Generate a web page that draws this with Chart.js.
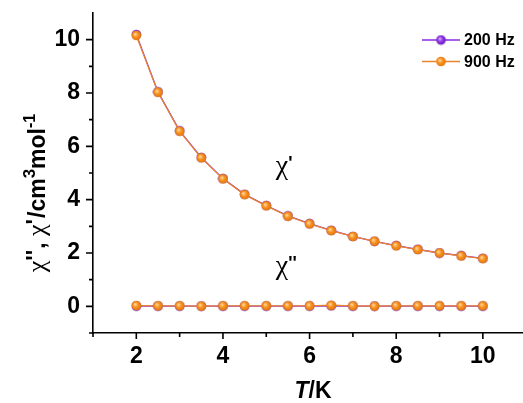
<!DOCTYPE html>
<html><head><meta charset="utf-8">
<script src="https://cdn.jsdelivr.net/npm/chart.js@4"></script>
<style>html,body{margin:0;padding:0;background:#fff;overflow:hidden}</style>
</head><body>
<canvas id="c" width="529" height="403" style="width:529px;height:403px;display:block"></canvas>
<script>
const temperatures = [2,2.5,3,3.5,4,4.5,5,5.5,6,6.5,7,7.5,8,8.5,9,9.5,10];
const chiReal200 = [10.19,8.04,6.58,5.58,4.79,4.20,3.78,3.39,3.10,2.85,2.62,2.44,2.28,2.14,2.00,1.90,1.80];
const chiReal900 = [10.16,8.03,6.57,5.57,4.78,4.19,3.77,3.38,3.09,2.84,2.62,2.44,2.27,2.13,2.00,1.89,1.79];
const chiImag200 = [0.01,0.01,0.01,0.01,0.01,0.01,0.01,0.01,0.01,0.02,0.01,0.01,0.01,0.01,0.01,0.01,0.01];
const chiImag900 = [0.03,0.02,0.02,0.01,0.02,0.02,0.02,0.02,0.02,0.04,0.02,0.01,0.02,0.02,0.02,0.02,0.02];
const xTickLabels = [2,4,6,8,10];
const yTickLabels = [0,2,4,6,8,10];
const xMinorTicks = [1,3,5,7,9];
const yMinorTicks = [-1,1,3,5,7,9];
const seriesLabels = ['200 Hz','900 Hz'];

const SANS = '"Liberation Sans", Arial, sans-serif';
const SERIF = '"Liberation Serif", "Times New Roman", serif';
const ORANGE_LINE = '#E8832E';
const PURPLE_LINE = '#8B2BE6';

function sphere(c1, c2, c3) {
  const s = 11, cv = document.createElement('canvas');
  cv.width = s; cv.height = s;
  const g = cv.getContext('2d');
  const grad = g.createRadialGradient(4.2, 4.2, 0.5, 5.5, 5.5, 5.2);
  grad.addColorStop(0, c1); grad.addColorStop(0.45, c2); grad.addColorStop(1, c3);
  g.fillStyle = grad;
  g.beginPath(); g.arc(5.5, 5.5, 4.8, 0, Math.PI * 2); g.fill();
  return cv;
}
const orangeDot = sphere('#FFD49A', '#F7911A', '#E07410');
const purpleDot = sphere('#D9A8FF', '#8E35E8', '#6418B0');

function ds(label, data, color, dot, legend) {
  return {
    label, data: temperatures.map((t, i) => ({x: t, y: data[i]})),
    borderColor: color, borderWidth: 1.3, pointStyle: dot, pointRadius: 5,
    tension: 0, fill: false, showInLegend: legend, legendDot: dot
  };
}

const datasets = [
  ds(seriesLabels[1], chiReal900, ORANGE_LINE, orangeDot, true),
  ds(seriesLabels[1], chiImag900, ORANGE_LINE, orangeDot, false),
  ds(seriesLabels[0], chiReal200, PURPLE_LINE, purpleDot, true),
  ds(seriesLabels[0], chiImag200, PURPLE_LINE, purpleDot, false)
];

function drawRuns(ctx, runs, x, y) {
  let cx = x;
  for (const r of runs) {
    ctx.font = r.font;
    ctx.fillText(r.t, cx, y + (r.dy || 0));
    cx += ctx.measureText(r.t).width + (r.gap || 0);
  }
  return cx - x;
}
function runsWidth(ctx, runs) {
  let w = 0;
  for (const r of runs) { ctx.font = r.font; w += ctx.measureText(r.t).width + (r.gap || 0); }
  return w;
}

const decor = {
  id: 'decor',
  afterDraw(chart) {
    const ctx = chart.ctx, xs = chart.scales.x, ys = chart.scales.y, ca = chart.chartArea;
    ctx.save();
    ctx.strokeStyle = '#000'; ctx.lineWidth = 1.6;
    ctx.beginPath();
    xTickLabels.forEach(v => { const p = xs.getPixelForValue(v); ctx.moveTo(p, ca.bottom); ctx.lineTo(p, ca.bottom + 6); });
    xMinorTicks.forEach(v => { const p = xs.getPixelForValue(v); ctx.moveTo(p, ca.bottom); ctx.lineTo(p, ca.bottom + 4); });
    yTickLabels.forEach(v => { const p = ys.getPixelForValue(v); ctx.moveTo(ca.left, p); ctx.lineTo(ca.left - 7, p); });
    yMinorTicks.forEach(v => { const p = ys.getPixelForValue(v); ctx.moveTo(ca.left, p); ctx.lineTo(ca.left - 4, p); });
    ctx.stroke();

    ctx.fillStyle = '#000';
    ctx.textBaseline = 'alphabetic';
    const xr = [{t: 'T', font: 'italic bold 23px ' + SANS}, {t: '/K', font: 'bold 23px ' + SANS}];
    const xw = runsWidth(ctx, xr);
    drawRuns(ctx, xr, 313 - xw / 2, 398);

    const big = 'bold 23px ' + SANS, sup = 'bold 16px ' + SANS, chi = '26px ' + SERIF;
    const yr = [
      {t: '\u03C7', font: chi}, {t: "''", font: big, dy: -2, gap: 1},
      {t: ', ', font: big},
      {t: '\u03C7', font: chi}, {t: "'", font: big, dy: -2, gap: 1},
      {t: '/cm', font: big}, {t: '3', font: 'bold 17px ' + SANS, dy: -10},
      {t: 'mol', font: big}, {t: '-1', font: sup, dy: -10}
    ];
    const yw = runsWidth(ctx, yr);
    ctx.save();
    ctx.translate(45, 193);
    ctx.rotate(-Math.PI / 2);
    drawRuns(ctx, yr, -yw / 2, 0);
    ctx.restore();

    const ax = xs.getPixelForValue(5.22);
    drawRuns(ctx, [{t: '\u03C7', font: '28px ' + SERIF}, {t: "'", font: 'bold 18px ' + SANS, dy: -5}], ax, ys.getPixelForValue(4.95));
    drawRuns(ctx, [{t: '\u03C7', font: '28px ' + SERIF}, {t: "''", font: 'bold 18px ' + SANS, dy: -5}], ax, ys.getPixelForValue(1.2));

    const items = chart.data.datasets.filter(d => d.showInLegend).sort((a, b) => a.label.localeCompare(b.label));
    items.forEach((d, i) => {
      const y = 40 + i * 21.5;
      ctx.strokeStyle = d.borderColor; ctx.lineWidth = 1.6;
      ctx.beginPath(); ctx.moveTo(422, y); ctx.lineTo(460, y); ctx.stroke();
      ctx.drawImage(d.legendDot, 441 - 5.5, y - 5.5);
      ctx.fillStyle = '#000';
      ctx.font = 'bold 16px ' + SANS;
      ctx.textBaseline = 'middle';
      ctx.fillText(d.label, 464, y + 1);
    });
    ctx.restore();
  }
};

new Chart(document.getElementById('c'), {
  type: 'line',
  data: {datasets},
  plugins: [decor],
  options: {
    responsive: false, animation: false,
    layout: {padding: {top: 13, right: 0, left: 0, bottom: 0}},
    plugins: {legend: {display: false}, tooltip: {enabled: false}},
    scales: {
      x: {
        type: 'linear', min: 1, max: 10.92,
        afterFit(s) { s.height = 70; s.paddingLeft = 0; s.paddingRight = 0; },
        afterBuildTicks(s) { s.ticks = xTickLabels.map(v => ({value: v})); },
        grid: {display: false, drawTicks: false, tickLength: 0},
        border: {display: true, color: '#000', width: 1.6},
        ticks: {color: '#000', font: {family: SANS, size: 23, weight: 'bold'}, padding: 10, maxRotation: 0, autoSkip: false}
      },
      y: {
        type: 'linear', min: -1, max: 11,
        afterFit(s) { s.width = 93; s.paddingTop = 0; s.paddingBottom = 0; },
        afterBuildTicks(s) { s.ticks = yTickLabels.map(v => ({value: v})); },
        grid: {display: false, drawTicks: false, tickLength: 0},
        border: {display: true, color: '#000', width: 1.6},
        ticks: {color: '#000', font: {family: SANS, size: 23, weight: 'bold'}, padding: 13, autoSkip: false}
      }
    }
  }
});
</script>
</body></html>
